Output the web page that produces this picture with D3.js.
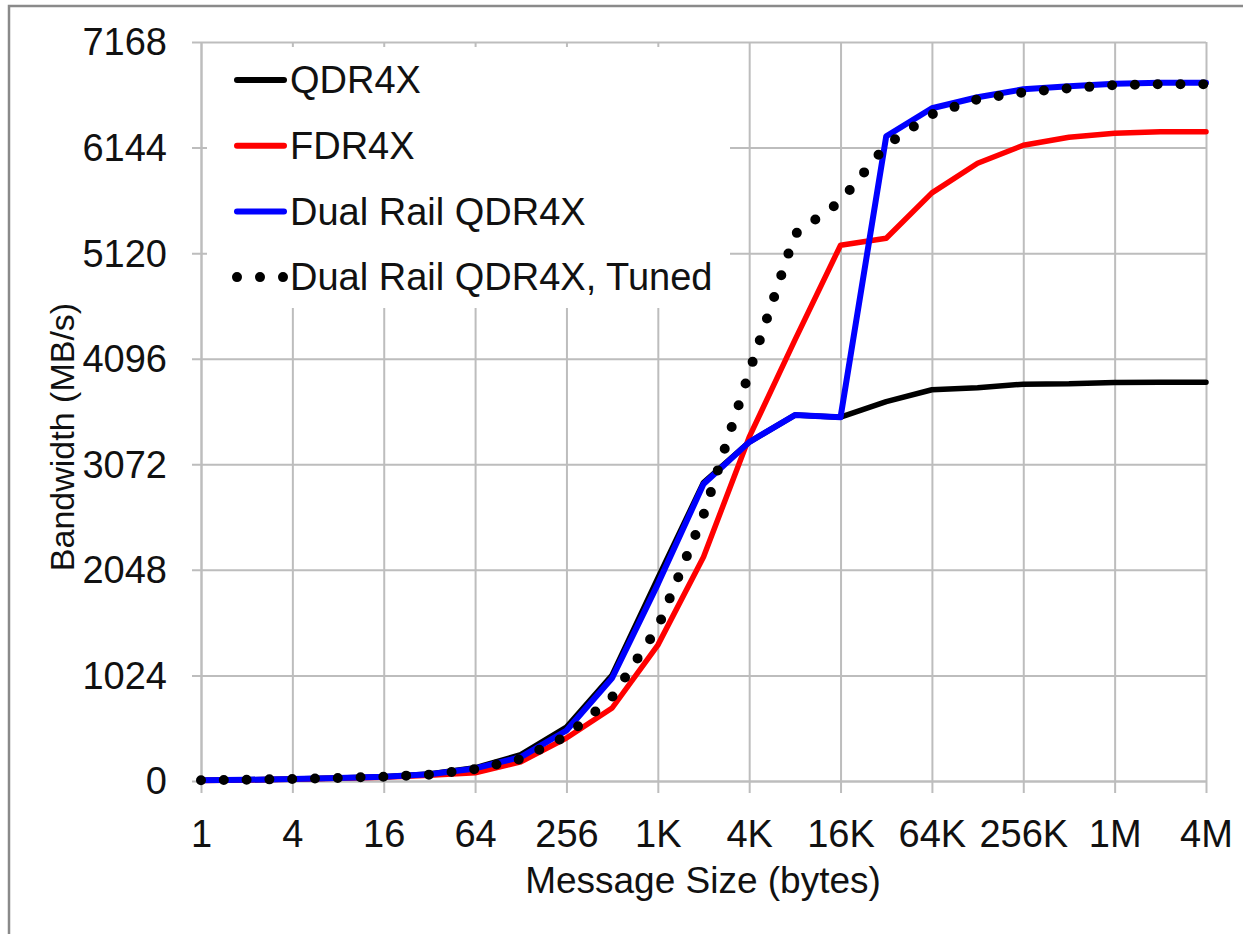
<!DOCTYPE html>
<html><head><meta charset="utf-8">
<script src="https://cdn.jsdelivr.net/npm/d3@7"></script>
<style>body{margin:0;background:#fff} text{font-family:"Liberation Sans",Arial,sans-serif;fill:#111}</style>
</head><body><svg id="c" width="1243" height="934"></svg>
<script>
const sizes = [1,2,4,8,16,32,64,128,256,512,1024,2048,4096,8192,16384,32768,65536,131072,262144,524288,1048576,2097152,4194304];
const xTickValues = [1,4,16,64,256,1024,4096,16384,65536,262144,1048576,4194304];
const xTickLabels = ["1","4","16","64","256","1K","4K","16K","64K","256K","1M","4M"];
const yTickValues = [0,1024,2048,3072,4096,5120,6144,7168];
const yTickLabels = ["0","1024","2048","3072","4096","5120","6144","7168"];
const seriesNames = ["QDR4X","FDR4X","Dual Rail QDR4X","Dual Rail QDR4X, Tuned"];
const qdr4x    = [8,12,20,30,42,68,128,255,524,1028,1968,2895,3287,3549,3529,3680,3795,3815,3849,3852,3866,3868,3868];
const fdr4x    = [6,10,17,26,36,55,80,186,417,708,1318,2172,3335,4276,5197,5265,5705,5992,6166,6244,6283,6298,6298];
const dualRail = [8,12,20,30,42,65,122,232,490,999,1910,2880,3287,3549,3529,6254,6525,6632,6709,6738,6764,6772,6772];
const tuned    = [8,12,20,30,42,62,115,213,435,814,1488,2580,3965,5303,5623,6166,6467,6612,6680,6719,6750,6758,6758];
const xTitle = "Message Size (bytes)";
const yTitle = "Bandwidth (MB/s)";

const svg = d3.select("#c");
const L=201,R=1206,T=42,B=781;
const FS = 38;
const x = d3.scaleLog().base(2).domain([1,4194304]).range([L,R]);
const y = d3.scaleLinear().domain([0,7168]).range([B,T]);
const gridColor = "#bdbdbd";

svg.append("rect").attr("x",9).attr("y",6).attr("width",1260).attr("height",960)
  .attr("fill","#fff").attr("stroke","#8a8a8a").attr("stroke-width",2.5);

const gy = svg.append("g").attr("transform",`translate(${L},0)`)
  .call(d3.axisLeft(y).tickValues(yTickValues).tickFormat((d,i)=>yTickLabels[i]).tickSize(-(R-L)).tickSizeOuter(0).tickPadding(34));
gy.select(".domain").attr("stroke",gridColor).attr("stroke-width",2);
gy.selectAll(".tick line").attr("x1",-9).attr("stroke",gridColor).attr("stroke-width",2);
gy.selectAll(".tick text").attr("font-size",FS).attr("dy","0.34em").attr("font-family",null);

const gx = svg.append("g").attr("transform",`translate(0,${B})`)
  .call(d3.axisBottom(x).tickValues(xTickValues).tickFormat((d,i)=>xTickLabels[i]).tickSize(-(B-T)).tickSizeOuter(0));
gx.select(".domain").attr("stroke",gridColor).attr("stroke-width",2);
gx.selectAll(".tick line").attr("y1",12).attr("stroke",gridColor).attr("stroke-width",2);
gx.selectAll(".tick text").attr("font-size",FS).attr("y",66).attr("dy",0).attr("font-family",null);
svg.selectAll(".tick text").attr("fill","#111");

const line = d3.line().x((d,i)=>x(sizes[i])).y(d=>y(d));
const styles = [
  {data:qdr4x, color:"#000000", w:5.5, dash:null},
  {data:fdr4x, color:"#ff0000", w:5.5, dash:null},
  {data:dualRail, color:"#0000ff", w:6, dash:null},
  {data:tuned, color:"#000000", w:10, dash:"0 22.8"}
];
styles.forEach(s=>{
  svg.append("path").datum(s.data).attr("d",line).attr("fill","none")
    .attr("stroke",s.color).attr("stroke-width",s.w)
    .attr("stroke-linejoin","round").attr("stroke-linecap","round")
    .attr("stroke-dasharray",s.dash);
});

// legend
svg.append("rect").attr("x",207).attr("y",47).attr("width",523).attr("height",261).attr("fill","#fff");
const lg = svg.append("g");
seriesNames.forEach((n,i)=>{
  const cy = 80 + i*65.7;
  const s = styles[i];
  lg.append("line").attr("x1",237).attr("x2",284).attr("y1",cy).attr("y2",cy)
    .attr("stroke",s.color).attr("stroke-width",i===3?10:6)
    .attr("stroke-linecap","round").attr("stroke-dasharray",i===3?"0 23":null);
  lg.append("text").attr("x",290).attr("y",cy).attr("dy","0.35em").attr("font-size",FS).text(n);
});

svg.append("text").attr("x",703).attr("y",893).attr("text-anchor","middle").attr("font-size",37).text(xTitle);
svg.append("text").attr("transform","translate(74,437) rotate(-90)").attr("text-anchor","middle").attr("font-size",34).text(yTitle);
</script></body></html>
